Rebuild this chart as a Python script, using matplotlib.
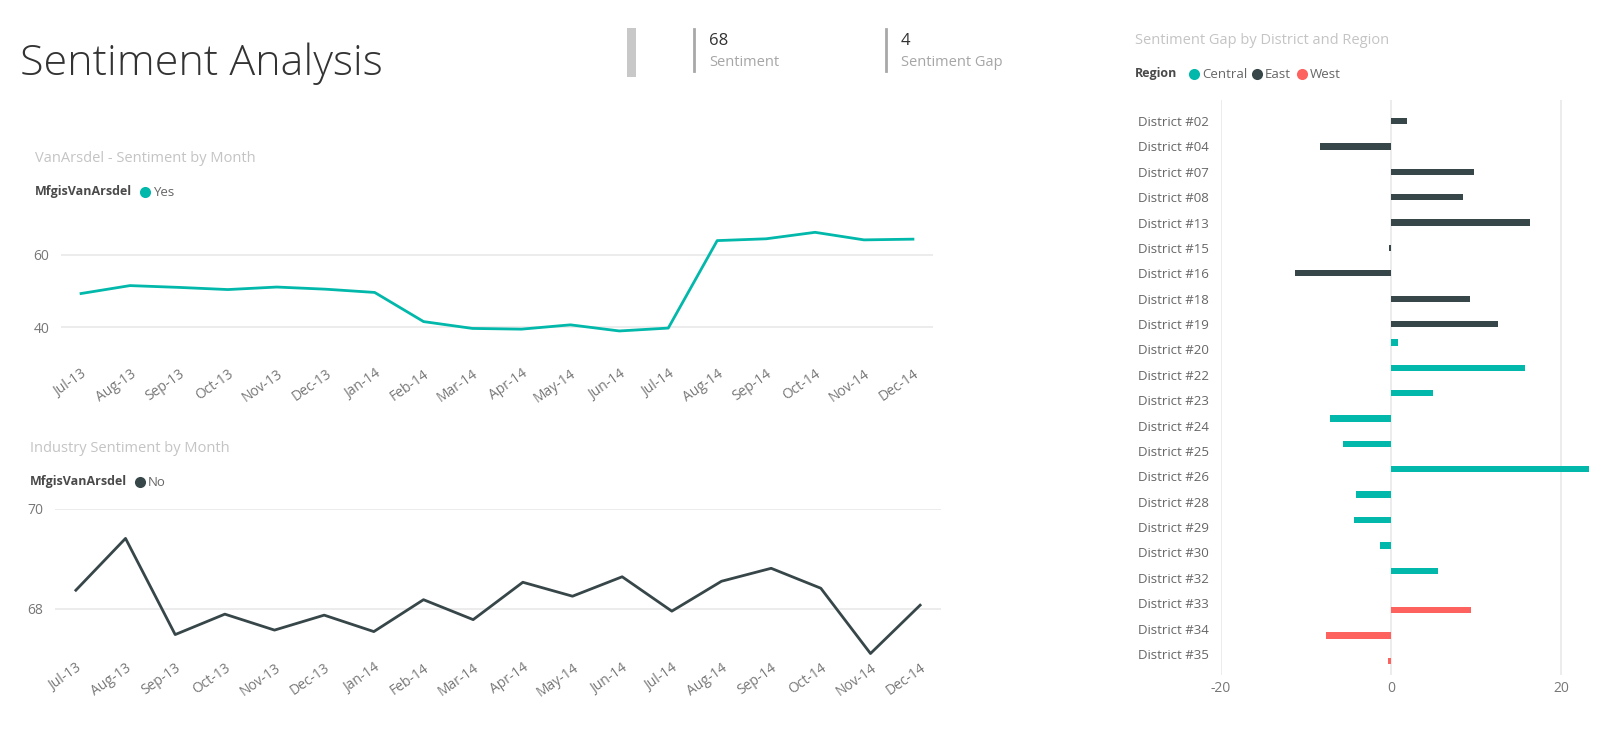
import matplotlib
matplotlib.use("Agg")
import matplotlib.pyplot as plt
from matplotlib.lines import Line2D
from matplotlib.patches import Rectangle

# ---------------- data ----------------
months = ["Jul-13", "Aug-13", "Sep-13", "Oct-13", "Nov-13", "Dec-13", "Jan-14", "Feb-14",
          "Mar-14", "Apr-14", "May-14", "Jun-14", "Jul-14", "Aug-14", "Sep-14", "Oct-14",
          "Nov-14", "Dec-14"]
vanarsdel_sentiment = [49.3, 51.5, 51.0, 50.4, 51.1, 50.5, 49.6, 41.5, 39.6, 39.4, 40.6, 38.9,
                       39.7, 64.0, 64.5, 66.3, 64.2, 64.4]
industry_sentiment = [68.37, 69.41, 67.48, 67.89, 67.57, 67.87, 67.54, 68.18, 67.78, 68.53,
                      68.25, 68.64, 67.95, 68.55, 68.81, 68.41, 67.10, 68.07]

districts = ["District #02", "District #04", "District #07", "District #08", "District #13",
             "District #15", "District #16", "District #18", "District #19", "District #20",
             "District #22", "District #23", "District #24", "District #25", "District #26",
             "District #28", "District #29", "District #30", "District #32", "District #33",
             "District #34", "District #35"]
district_region = ["East", "East", "East", "East", "East", "East", "East", "East", "East",
                   "Central", "Central", "Central", "Central", "Central", "Central", "Central",
                   "Central", "Central", "Central", "West", "West", "West"]
sentiment_gap = [1.9, -8.4, 9.8, 8.5, 16.4, -0.2, -11.25, 9.25, 12.55, 0.8, 15.75, 4.95, -7.2,
                 -5.65, 23.3, -4.1, -4.35, -1.3, 5.5, 9.4, -7.7, -0.4]
regions = ["Central", "East", "West"]
region_colors = {"Central": "#01B8AA", "East": "#374649", "West": "#FD625E"}

kpi_values = ["68", "4"]
kpi_labels = ["Sentiment", "Sentiment Gap"]

# ---------------- figure ----------------
W, H = 1621, 732
fig = plt.figure(figsize=(W / 100, H / 100), dpi=100)
fig.patch.set_facecolor("white")
FONT = ["Open Sans", "DejaVu Sans"]


def px_axes(x0, y0, x1, y1):
    return fig.add_axes([x0 / W, 1 - y1 / H, (x1 - x0) / W, (y1 - y0) / H])


def ftext(x, y, s, **kw):
    kw.setdefault("family", FONT)
    return fig.text(x / W, 1 - y / H, s, **kw)


def fdot(x, y, color, size=8):
    fig.add_artist(Line2D([x / W], [1 - y / H], marker="o", markersize=size, color=color,
                          markeredgewidth=0, linestyle="none", transform=fig.transFigure))


TICK_C = "#777777"
GRID_C = "#e9e9e9"
TITLE_C = "#c4c4c4"
LEG_C = "#4a4a4a"


def style_axes(ax):
    for s in ax.spines.values():
        s.set_visible(False)
    ax.tick_params(length=0, colors=TICK_C, labelsize=10)
    for lab in ax.get_xticklabels() + ax.get_yticklabels():
        lab.set_family(FONT)


# ---- Title ----
ftext(20, 75, "Sentiment Analysis", fontsize=31, color="#333333", va="baseline",
      family=["Open Sans Light", "Open Sans", "DejaVu Sans"], fontweight="light")

# ---- KPI cards ----
fig.add_artist(Rectangle((627 / W, 1 - 77 / H), 9 / W, 49 / H, transform=fig.transFigure,
                         color="#c8c8c8", lw=0))
for i, (xl, val, lab) in enumerate(zip([694, 886], kpi_values, kpi_labels)):
    fig.add_artist(Line2D([xl / W, xl / W], [1 - 29 / H, 1 - 71 / H], color="#a8a8a8",
                          lw=2, transform=fig.transFigure))
    ftext(xl + 15, 41, val, fontsize=12, color="#333333", va="center")
    ftext(xl + 15, 62, lab, fontsize=10.5, color="#a6a6a6", va="center")

# ---- Top line chart ----
x = list(range(len(months)))
ax1 = px_axes(61, 219, 933, 363)
ax1.plot(x, vanarsdel_sentiment, color="#01B8AA", lw=2.0, solid_joinstyle="round")
ax1.set_xlim(-0.41, 17.41)
ax1.set_ylim(30, 70)
ax1.set_yticks([40, 60])
ax1.set_xticks(x)
ax1.set_xticklabels(months, rotation=35, ha="right", va="top", rotation_mode="anchor")
ax1.grid(axis="y", color=GRID_C, lw=1.2)
ax1.set_axisbelow(True)
style_axes(ax1)
ax1.tick_params(axis="y", pad=8.5)
ax1.tick_params(axis="x", pad=2.5)

ftext(35, 158, "VanArsdel - Sentiment by Month", fontsize=10.5, color=TITLE_C, va="center")
ftext(35, 192, "MfgisVanArsdel", fontsize=9, color=LEG_C, va="center", fontweight="bold")
fdot(145, 192, "#01B8AA")
ftext(153, 192, "Yes", fontsize=9.5, color="#666666", va="center")

# ---- Bottom line chart ----
ax2 = px_axes(55, 509, 941, 657)
ax2.plot(x, industry_sentiment, color="#374649", lw=2.0, solid_joinstyle="round")
ax2.set_xlim(-0.42, 17.42)
ax2.set_ylim(67.03, 70)
ax2.set_yticks([68, 70])
ax2.set_xticks(x)
ax2.set_xticklabels(months, rotation=35, ha="right", va="top", rotation_mode="anchor")
ax2.grid(axis="y", color=GRID_C, lw=1.2)
ax2.set_axisbelow(True)
style_axes(ax2)
ax2.tick_params(axis="y", pad=8.5)
ax2.tick_params(axis="x", pad=2.5)

ftext(30, 449, "Industry Sentiment by Month", fontsize=10.5, color=TITLE_C, va="center")
ftext(30, 482, "MfgisVanArsdel", fontsize=9, color=LEG_C, va="center", fontweight="bold")
fdot(140, 482, "#374649")
ftext(148, 482, "No", fontsize=9.5, color="#666666", va="center")

# ---- Bar chart ----
ax3 = px_axes(1221, 100, 1592, 675)
offsets = {"Central": -0.28, "East": 0.0, "West": 0.28}
for r in regions:
    ys = [i + offsets[r] for i, reg in enumerate(district_region) if reg == r]
    vs = [v for v, reg in zip(sentiment_gap, district_region) if reg == r]
    ax3.barh(ys, vs, height=0.25, color=region_colors[r], lw=0)
ax3.set_xlim(-20, 23.65)
ax3.set_ylim(len(districts) - 1 + 0.83, -0.83)
ax3.set_yticks(range(len(districts)))
ax3.set_yticklabels(districts)
ax3.set_xticks([-20, 0, 20])
ax3.set_xticklabels(["-20", "0", "20"])
ax3.grid(axis="x", color=GRID_C, lw=1.2)
ax3.set_axisbelow(True)
style_axes(ax3)
ax3.tick_params(axis="y", pad=8.5, labelsize=9.5, colors="#666666")
ax3.tick_params(axis="x", pad=4)

ftext(1135, 41, "Sentiment Gap by District and Region", fontsize=10.5, color=TITLE_C,
      va="center")
ftext(1135, 74, "Region", fontsize=9, color=LEG_C, va="center", fontweight="bold")
for r, dx, tx in zip(regions, [1194, 1257, 1302], [1202, 1265, 1310]):
    fdot(dx, 74, region_colors[r])
    ftext(tx, 74, r, fontsize=9.5, color="#666666", va="center")

fig.savefig("out.png", dpi=100, facecolor="white")
